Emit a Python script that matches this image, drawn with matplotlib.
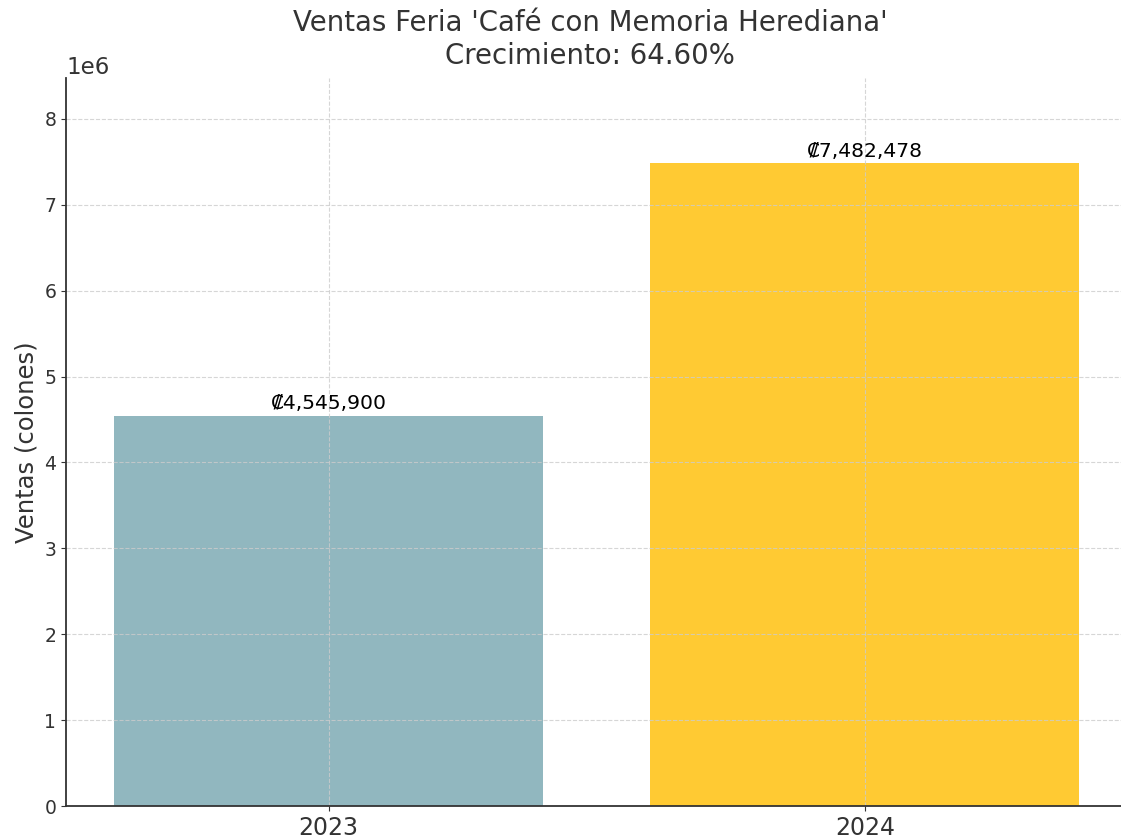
import matplotlib
matplotlib.use('Agg')
import matplotlib.pyplot as plt

years = ['2023', '2024']
ventas = [4545900, 7482478]
colores = ['#91B7BF', '#FFCA33']
crecimiento = (ventas[1] - ventas[0]) / ventas[0] * 100

plt.rcParams['font.family'] = ['DejaVu Sans']
plt.rcParams['text.color'] = '#333333'
plt.rcParams['axes.labelcolor'] = '#333333'
plt.rcParams['xtick.color'] = '#333333'
plt.rcParams['ytick.color'] = '#333333'

fig = plt.figure(figsize=(11.21, 8.39), dpi=100)
ax = fig.add_axes([0.0589, 0.0393, 0.947, 0.868])

bars = ax.bar(years, ventas, color=colores, width=0.8)
for b, v in zip(bars, ventas):
    ax.text(b.get_x() + b.get_width() / 2, v + 25000, '₡{:,}'.format(v),
            ha='center', va='bottom', fontsize=14.6, color='black')

ax.set_ylim(0, max(ventas) * 1.133)
ax.set_ylabel('Ventas (colones)', fontsize=17.5)
ax.set_title("Ventas Feria 'Café con Memoria Herediana'\nCrecimiento: {:.2f}%".format(crecimiento),
             fontsize=19.9, pad=10, x=0.4934, color='#333333')

ax.grid(True, linestyle='--', color='#cccccc', linewidth=0.8, alpha=0.8)
ax.tick_params(axis='x', labelsize=17)
ax.tick_params(axis='y', labelsize=13.5)
ax.yaxis.get_offset_text().set_fontsize(16.5)
for s in ['top', 'right']:
    ax.spines[s].set_visible(False)
for s in ['left', 'bottom']:
    ax.spines[s].set_color('#333333')
    ax.spines[s].set_linewidth(1.3)

fig.savefig('out.png', dpi=100)
